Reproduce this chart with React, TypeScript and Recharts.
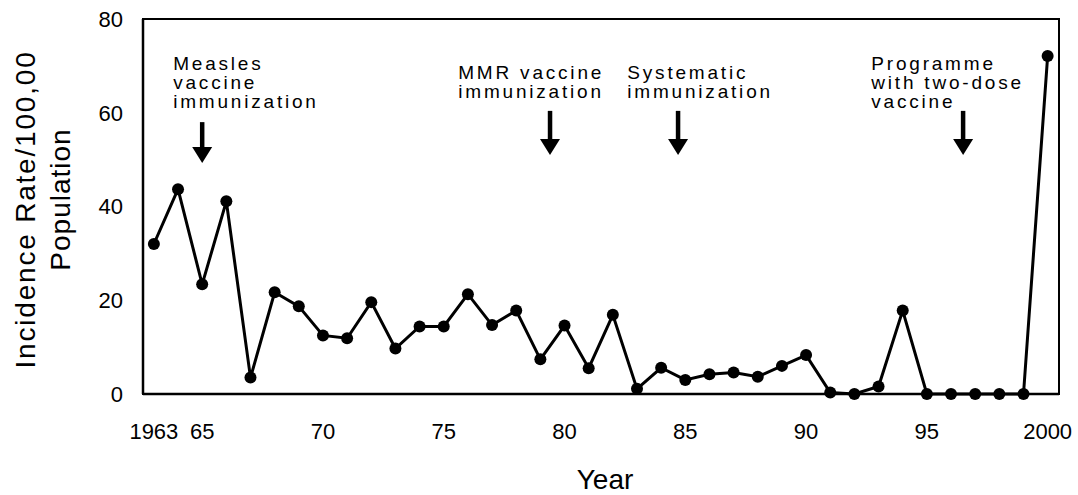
import { LineChart, Line, XAxis, YAxis, ReferenceArea, ReferenceDot, ReferenceLine } from "recharts"

const years = [
    1963, 1964, 1965, 1966, 1967, 1968, 1969, 1970, 1971, 1972,
    1973, 1974, 1975, 1976, 1977, 1978, 1979, 1980, 1981, 1982,
    1983, 1984, 1985, 1986, 1987, 1988, 1989, 1990, 1991, 1992,
    1993, 1994, 1995, 1996, 1997, 1998, 1999, 2000,
];
const incidence = [
    32, 43.7, 23.4, 41.1, 3.5, 21.7, 18.7, 12.5, 11.9, 19.6,
    9.7, 14.4, 14.4, 21.3, 14.7, 17.8, 7.4, 14.6, 5.5, 16.9,
    1.1, 5.6, 3.0, 4.2, 4.6, 3.7, 6.0, 8.3, 0.3, 0,
    1.6, 17.8, 0, 0, 0, 0, 0, 72.1,
];

const xTicks = [1963, 1965, 1970, 1975, 1980, 1985, 1990, 1995, 2000];
const yTicks = [0, 20, 40, 60, 80];
const xDomain = [1962.55, 2000.47];
const yDomain = [0, 80];

// annotations (data coordinates)
const noteLines = [
    ["Measles", "vaccine", "immunization"],
    ["MMR vaccine", "immunization"],
    ["Systematic", "immunization"],
    ["Programme", "with two-dose", "vaccine"],
];
const noteX = [1963.8, 1975.6, 1982.6, 1992.7];
const noteY = [69.1, 67.2, 67.2, 69.1];
const arrowX = [1965.0, 1979.4, 1984.7, 1996.5];
const arrowTop = [58.0, 60.4, 60.4, 60.4];
const arrowTip = [49.3, 51.0, 51.0, 51.0];

const data = years.map((year, i) => ({ year, rate: incidence[i] }));

const FONT = "'Liberation Sans', Arial, Helvetica, sans-serif";

function fmtYear(v: number) {
    if (v === 1963 || v === 2000) return String(v);
    return String(v).slice(2);
}

function Arrow(props: any) {
    const { x1, y1, x2, y2 } = props;
    const top = Math.min(y1, y2);
    const tip = Math.max(y1, y2);
    const x = (x1 + x2) / 2;
    const head = 16;
    return (
        <g>
            <line x1={x} y1={top} x2={x} y2={tip - head + 2} stroke="#000" strokeWidth={4.5} />
            <polygon points={`${x - 10},${tip - head} ${x + 10},${tip - head} ${x},${tip}`} fill="#000" />
        </g>
    );
}

function noteLabel(lines: string[]) {
    return (props: any) => {
        const vb = props.viewBox || {};
        return (
            <text x={vb.x} y={vb.y} fontFamily={FONT} fontSize={19} letterSpacing={2.8} fill="#000">
                {lines.map((l, i) => (
                    <tspan key={i} x={vb.x} y={vb.y + i * 19}>{l}</tspan>
                ))}
            </text>
        );
    };
}

function YLabel(props: any) {
    const vb = props.viewBox;
    const cy = vb.y + vb.height / 2;
    return (
        <g fontFamily={FONT} fontSize={28} fill="#000">
            <text x={35} y={cy + 3} textAnchor="middle" letterSpacing={1.8} transform={`rotate(-90 35 ${cy + 3})`}>
                Incidence Rate/100,00
            </text>
            <text x={70} y={cy - 7} textAnchor="middle" letterSpacing={1} transform={`rotate(-90 70 ${cy - 7})`}>
                Population
            </text>
        </g>
    );
}

function XLabel(props: any) {
    const vb = props.viewBox;
    return (
        <text x={vb.x + vb.width / 2 + 4} y={vb.y + 95} textAnchor="middle" fontFamily={FONT} fontSize={28} fill="#000">
            Year
        </text>
    );
}

export default function App() {
    return (
        <div style={{ position: "absolute", left: 0, top: 0, width: 1078, height: 495, background: "#fff" }}>
            <LineChart width={1078} height={495} data={data} margin={{ top: 19, right: 19, left: 0, bottom: 0 }}>
                <XAxis
                    dataKey="year"
                    type="number"
                    domain={xDomain}
                    ticks={xTicks}
                    allowDataOverflow
                    tickFormatter={fmtYear}
                    tickLine={false}
                    tickSize={0}
                    tickMargin={29}
                    height={101}
                    axisLine={{ stroke: "#000", strokeWidth: 2.5 }}
                    tick={{ fill: "#000", fontSize: 22, fontFamily: FONT }}
                    label={{ content: XLabel }}
                />
                <YAxis
                    type="number"
                    domain={yDomain}
                    ticks={yTicks}
                    tickLine={false}
                    tickSize={0}
                    tickMargin={20}
                    width={143}
                    axisLine={{ stroke: "#000", strokeWidth: 2.5 }}
                    tick={{ fill: "#000", fontSize: 22, fontFamily: FONT }}
                    label={{ content: YLabel }}
                />
                <ReferenceArea x1={xDomain[0]} x2={xDomain[1]} y1={yDomain[0]} y2={yDomain[1]}
                    fill="none" stroke="#000" strokeWidth={2} ifOverflow="visible" />
                {arrowX.map((x, i) => (
                    <ReferenceLine key={"a" + i}
                        segment={[{ x, y: arrowTop[i] }, { x, y: arrowTip[i] }]}
                        shape={Arrow} ifOverflow="visible" />
                ))}
                {noteX.map((x, i) => (
                    <ReferenceDot key={"n" + i} x={x} y={noteY[i]} r={0} stroke="none" fill="none"
                        ifOverflow="visible" label={noteLabel(noteLines[i])} />
                ))}
                <Line
                    type="linear"
                    dataKey="rate"
                    stroke="#000"
                    strokeWidth={3}
                    dot={{ r: 6, fill: "#000", stroke: "#000", strokeWidth: 0 }}
                    activeDot={false}
                    isAnimationActive={false}
                />
            </LineChart>
        </div>
    );
}
